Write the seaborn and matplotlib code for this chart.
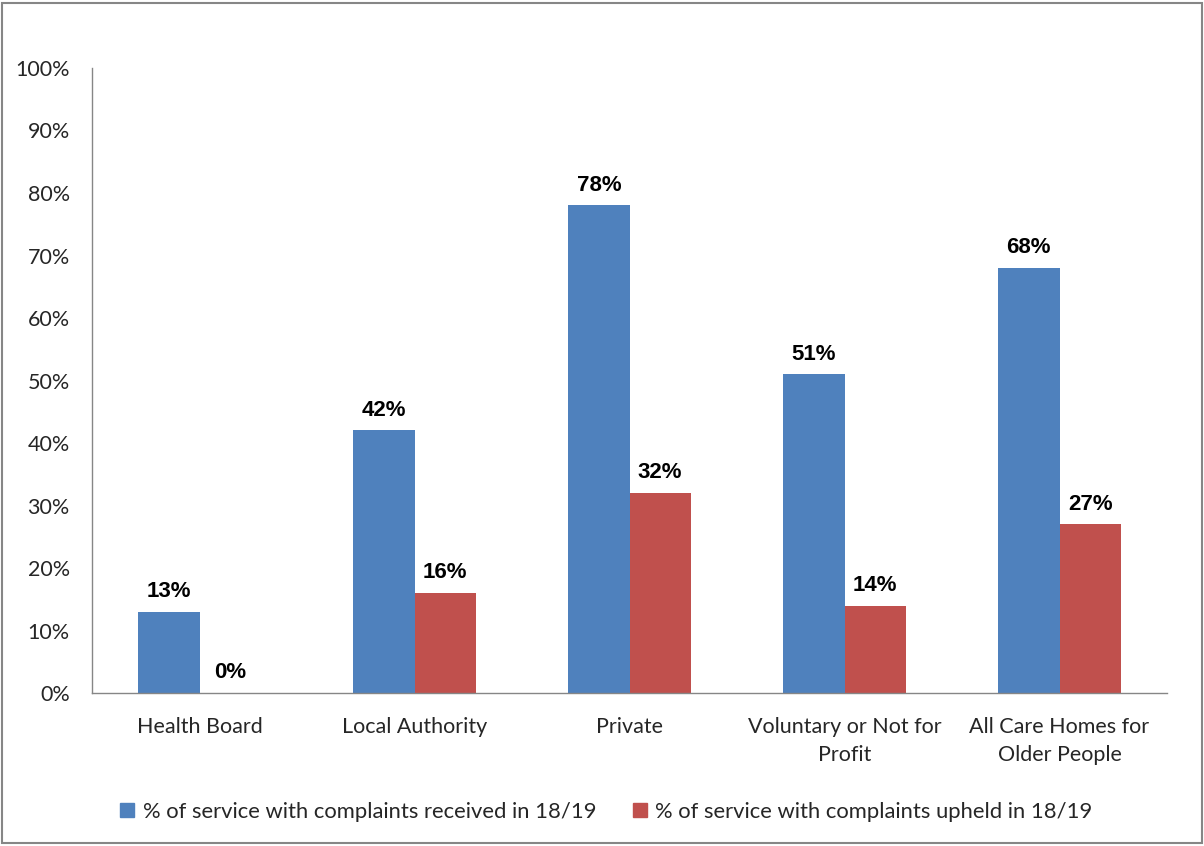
import matplotlib
matplotlib.use("Agg")
import matplotlib.pyplot as plt
from matplotlib.patches import Rectangle
from matplotlib.lines import Line2D
import seaborn as sns
import pandas as pd

categories = ["Health Board", "Local Authority", "Private",
              "Voluntary or Not for\nProfit", "All Care Homes for\nOlder People"]
received = [13, 42, 78, 51, 68]
upheld = [0, 16, 32, 14, 27]
series = ["% of service with complaints received in 18/19",
          "% of service with complaints upheld in 18/19"]
colors = ["#4F81BD", "#C0504D"]
y_ticks = [0, 10, 20, 30, 40, 50, 60, 70, 80, 90, 100]

df = pd.DataFrame({
    "category": categories * 2,
    "value": received + upheld,
    "series": [series[0]] * len(categories) + [series[1]] * len(categories),
})

sns.set_theme(style="white")
plt.rcParams["font.family"] = ["Lato", "DejaVu Sans"]

fig = plt.figure(figsize=(12.04, 8.46), dpi=100)
ax = fig.add_axes([92 / 1204, 1 - 693 / 846, (1167 - 92) / 1204, (693 - 68) / 846])

sns.barplot(data=df, x="category", y="value", hue="series", hue_order=series,
            palette=colors, width=0.57, saturation=1, ax=ax, legend=False,
            errorbar=None, linewidth=0)

for cont in ax.containers:
    ax.bar_label(cont, labels=[f"{v:.0f}%" for v in cont.datavalues],
                 padding=7, fontsize=16, fontweight="bold",
                 family=["Liberation Sans", "DejaVu Sans"], color="black")

ax.set_xlim(-0.5, len(categories) - 0.5)
ax.set_ylim(0, 100)
ax.set_yticks(y_ticks)
ax.set_yticklabels([f"{t}%" for t in y_ticks], fontsize=15.5)
ax.tick_params(axis="y", length=0, pad=16)
ax.tick_params(axis="x", which="major", length=0, pad=17, labelsize=15.5)
ax.set_xticks([i - 0.5 for i in range(len(categories) + 1)], minor=True)
ax.tick_params(axis="x", which="minor", length=8, color="#868686", width=1, direction="out")
ax.set_xlabel("")
ax.set_ylabel("")
for s in ["top", "right"]:
    ax.spines[s].set_visible(False)
for s in ["left", "bottom"]:
    ax.spines[s].set_color("#868686")
    ax.spines[s].set_linewidth(1)
for lbl in ax.get_xticklabels():
    lbl.set_linespacing(1.5)

handles = [Line2D([0], [0], marker="s", linestyle="", markersize=9.5,
                  markerfacecolor=c, markeredgecolor=c) for c in colors]
fig.legend(handles, series, loc="center", bbox_to_anchor=(0.503, 1 - 812 / 846),
           ncol=2, frameon=False, fontsize=15.8, handletextpad=0.3,
           columnspacing=1.6, handlelength=0.8)

fig.patches.append(Rectangle((2 / 1204, 3 / 846), 1200 / 1204, 840 / 846,
                             transform=fig.transFigure, fill=False,
                             edgecolor="#868686", linewidth=1.5))

fig.savefig("out.png", dpi=100, facecolor="white")
